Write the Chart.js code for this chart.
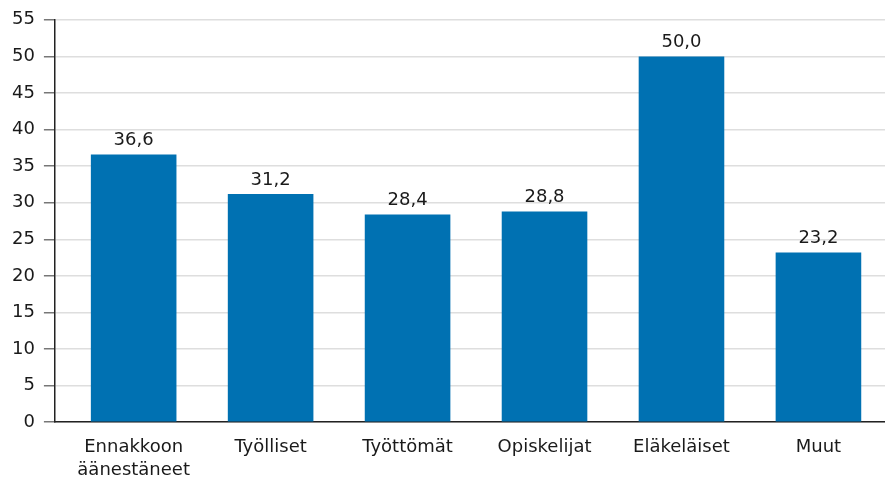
<!DOCTYPE html>
<html>
<head>
<meta charset="utf-8">
<script src="https://cdn.jsdelivr.net/npm/chart.js@4.4.1/dist/chart.umd.min.js"></script>
<style>
  html, body { margin: 0; padding: 0; background: #fff; }
  #wrap { width: 885px; height: 484px; }
</style>
</head>
<body>
<div id="wrap"><canvas id="chart"></canvas></div>
<script>
'use strict';

var CATEGORIES = ['Ennakkoon äänestäneet', 'Työlliset', 'Työttömät', 'Opiskelijat', 'Eläkeläiset', 'Muut'];
var VALUES = [36.6, 31.2, 28.4, 28.8, 50.0, 23.2];
var Y_TICKS = [0, 5, 10, 15, 20, 25, 30, 35, 40, 45, 50, 55];

var BAR_COLOR = '#0071b2';
var FONT = 'DejaVu Sans';

function fi(v) {
	return v.toFixed(1).replace('.', ',');
}

// arvot pylväiden päälle
var valueLabels = {
	id: 'valueLabels',
	afterDatasetsDraw: function (chart) {
		var ctx = chart.ctx;
		var meta = chart.getDatasetMeta(0);
		ctx.save();
		ctx.font = '18px ' + FONT;
		ctx.fillStyle = '#1a1a1a';
		ctx.textAlign = 'center';
		ctx.textBaseline = 'alphabetic';
		meta.data.forEach(function (bar, i) {
			ctx.fillText(fi(VALUES[i]), bar.x, bar.y - 9);
		});
		ctx.restore();
	}
};

var ctx = document.getElementById('chart').getContext('2d');
new Chart(ctx, {
	type: 'bar',
	data: {
		datasets: [{
			data: VALUES.map(function (v, i) { return { x: i, y: v }; }),
			backgroundColor: BAR_COLOR,
			borderWidth: 0,
			barPercentage: 0.625,
			categoryPercentage: 1
		}]
	},
	plugins: [valueLabels],
	options: {
		responsive: true,
		maintainAspectRatio: false,
		devicePixelRatio: 1,
		animation: false,
		layout: {
			padding: { left: 3, top: 16, right: 0, bottom: -3 }
		},
		plugins: {
			legend: { display: false },
			title: { display: false },
			tooltip: { enabled: false }
		},
		scales: {
			x: {
				type: 'linear',
				offset: false,
				min: -0.575,
				max: 5.486,
				afterBuildTicks: function (scale) {
					scale.ticks = CATEGORIES.map(function (c, i) { return { value: i }; });
				},
				grid: { display: false },
				border: { display: true, color: '#222', width: 1.5 },
				ticks: {
					autoSkip: false,
					maxRotation: 0,
					padding: 5,
					color: '#1a1a1a',
					font: { family: FONT, size: 18, lineHeight: 1.3 },
					callback: function (v) {
						var c = CATEGORIES[v];
						return c ? c.split(' ') : '';
					}
				}
			},
			y: {
				min: 0,
				max: 55,
				afterBuildTicks: function (scale) {
					scale.ticks = Y_TICKS.map(function (t) { return { value: t }; });
				},
				grid: {
					color: '#dedede',
					lineWidth: 1.5,
					tickColor: '#777',
					tickLength: 11
				},
				border: { display: true, color: '#222', width: 1.5 },
				ticks: {
					padding: 9,
					color: '#1a1a1a',
					font: { family: FONT, size: 18 }
				}
			}
		}
	}
});
</script>
</body>
</html>
